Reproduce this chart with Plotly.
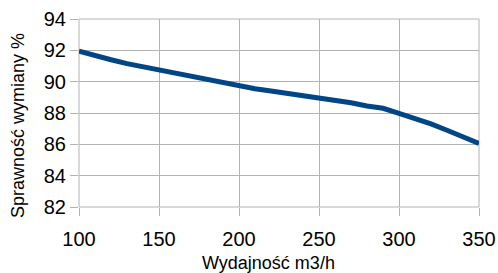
import plotly.graph_objects as go

flow = [100, 110, 120, 130, 140, 150, 160, 170, 180, 190, 200, 210, 220, 230, 240,
        250, 260, 270, 280, 290, 300, 310, 320, 330, 340, 350]
efficiency = [91.95, 91.65, 91.4, 91.15, 90.95, 90.75, 90.55, 90.3, 90.1, 89.9, 89.7,
              89.55, 89.4, 89.25, 89.1, 88.97, 88.85, 88.65, 88.45, 88.3, 87.97,
              87.65, 87.3, 86.9, 86.5, 86.06]
x_ticks = [100, 150, 200, 250, 300, 350]
y_ticks = [82, 84, 86, 88, 90, 92, 94]
x_title = "Wydajność m3/h"
y_title = "Sprawność wymiany %"

fig = go.Figure()
fig.add_trace(go.Scatter(x=flow, y=efficiency, mode="lines",
                         line=dict(color="#004586", width=5), showlegend=False))

grid = "#b3b3b3"
fig.update_layout(
    width=498, height=273,
    margin=dict(l=79, r=19, t=19, b=66),
    plot_bgcolor="white", paper_bgcolor="white",
    font=dict(family="Liberation Sans, Arial, sans-serif", color="black"),
    xaxis=dict(range=[100, 350], tickvals=x_ticks, showgrid=True, gridcolor=grid,
               gridwidth=1, zeroline=False, showline=False, ticks="outside",
               ticklen=8, tickcolor=grid, tickfont=dict(size=20),
               ticklabelstandoff=6, automargin=False),
    yaxis=dict(range=[82, 94], tickvals=y_ticks, showgrid=True, gridcolor=grid,
               gridwidth=1, zeroline=False, showline=False, ticks="outside",
               ticklen=8, tickcolor=grid, tickfont=dict(size=20), automargin=False),
)
fig.add_annotation(text=x_title, xref="paper", yref="paper", x=0.4725, y=-0.298,
                   xanchor="center", yanchor="middle", showarrow=False,
                   font=dict(size=18))
fig.add_annotation(text=y_title, xref="paper", yref="paper", x=-0.1525, y=0.431,
                   xanchor="center", yanchor="middle", showarrow=False,
                   textangle=-90, font=dict(size=18))
fig.add_shape(type="rect", xref="paper", yref="paper", x0=0, x1=1, y0=0, y1=1,
              line=dict(color=grid, width=1), layer="below")
fig.write_html("out.html", config={"displayModeBar": False},
               post_script="document.body.style.margin='0';document.body.style.padding='0';")
